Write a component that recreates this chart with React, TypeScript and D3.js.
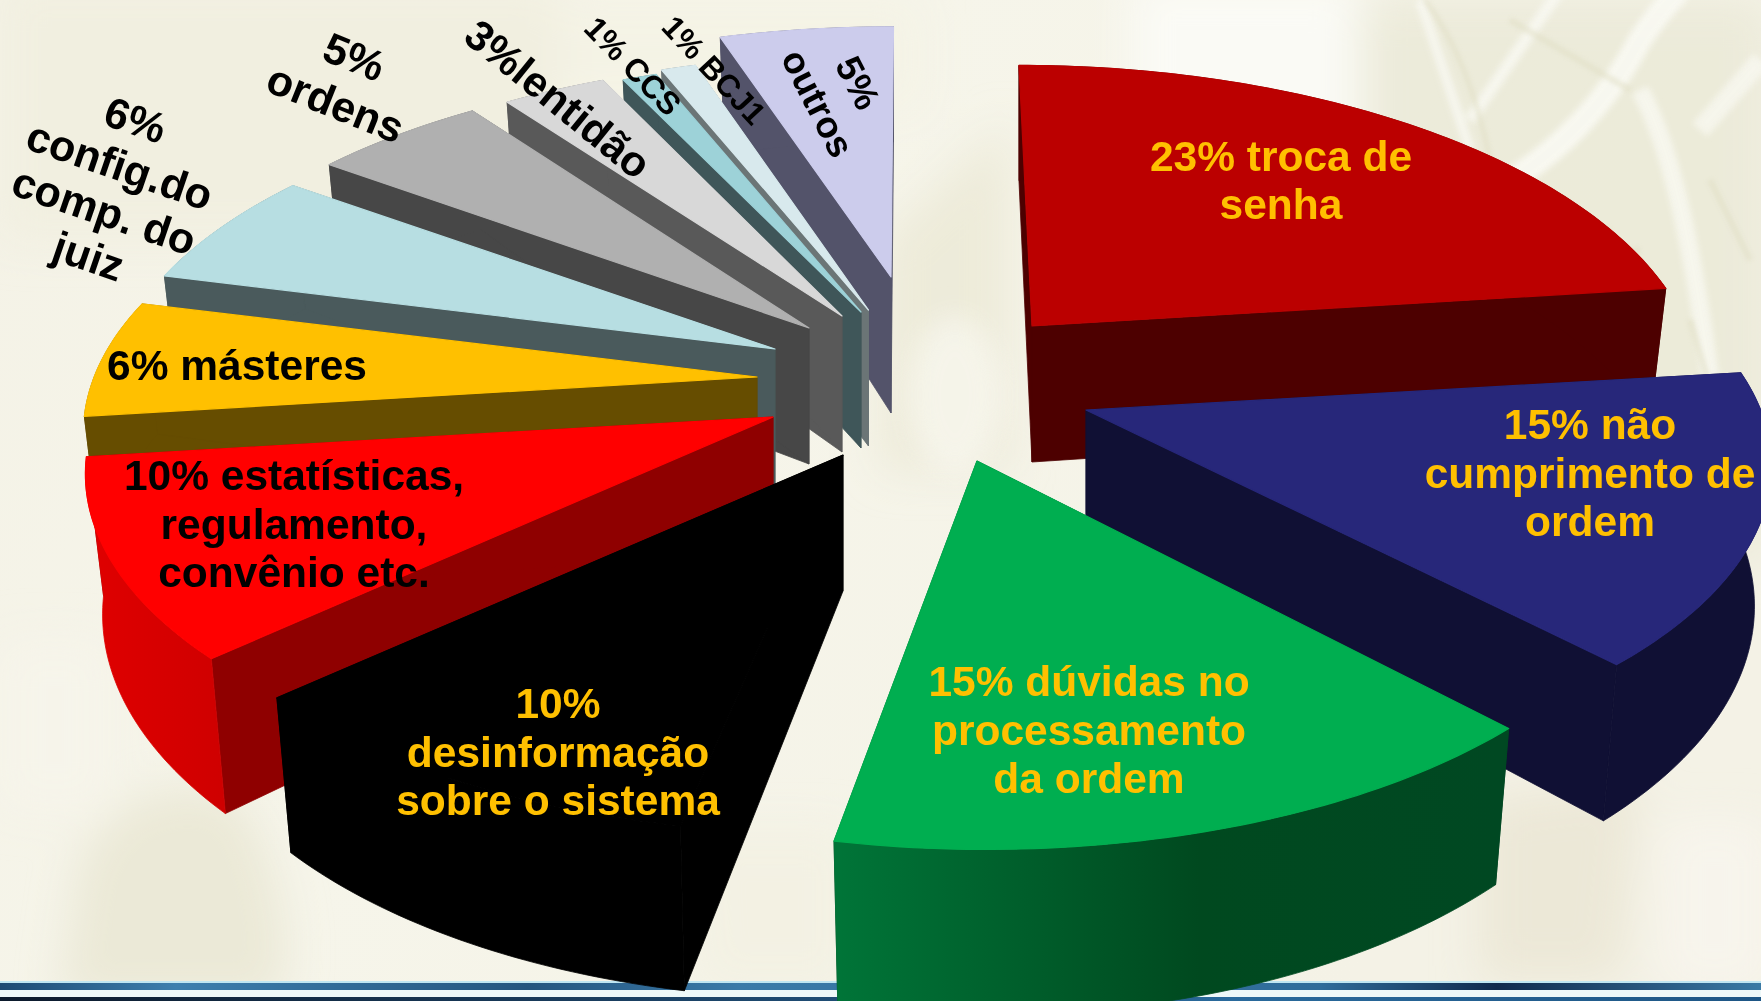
import React from "react";
import * as d3 from "d3";

// ---- data ----
const categories = [
  "troca de senha", "não cumprimento de ordem", "dúvidas no processamento da ordem",
  "desinformação sobre o sistema", "estatísticas, regulamento, convênio etc.", "másteres",
  "config.do comp. do juiz", "ordens", "lentidão", "CCS", "BCJ1", "outros",
];
const percentages = [23, 15, 15, 10, 10, 6, 6, 5, 3, 1, 1, 5];

// ---- layout and style ----
const W = 1761, H = 1001;
const RX = 655, RV = 307, PERSP = 0.178, DEPTH = 136, BOTTOM_SCALE = 0.975;
const apexX = [1032, 1086, 977, 843, 773, 757, 775, 809, 842, 861, 868.5, 891];
const apexY = [326, 410, 461, 455, 417, 377, 349, 328, 316, 312, 310, 277];
const radiusScaleX = [1, 1.03, 1.02, 1.03, 1.033, 1.012, 1.005, 1, 0.995, 0.99, 1, 1];
const radiusScaleY = [1, 0.99, 1.04, 1.015, 1.01, 1, 1, 1, 0.985, 0.97, 0.98, 0.96];
const shear = [-0.05, 0, -0.023, 0.025, 0, 0, 0, 0, 0, 0, 0, 0.01];
const topFill = ["#bb0000", "#27277a", "#00ae50", "#000000", "#ff0000", "#ffc000", "#b7dee2", "#b0b0b0", "#d8d8d8", "#9dd2d8", "#d8e9ed", "#ccccec"];
const wallFill = ["#4d0000", "#101034", "#00401f", "#000000", "#8f0000", "#664d00", "#4a5a5c", "#474747", "#595959", "#3f5659", "#6b7576", "#53536a"];
const outerFill = ["#4d0000", "#101034", "url(#greenWall)", "#000000", "url(#redWall)", "#664d00", "#4a5a5c", "#474747", "#595959", "#3f5659", "#6b7576", "#53536a"];
const drawOrder = [11, 10, 9, 8, 7, 6, 5, 4, 3, 0, 1, 2];

const GOLD = "#ffc000";
const labelLines = [
  ["23% troca de", "senha"],
  ["15% não", "cumprimento de", "ordem"],
  ["15% dúvidas no", "processamento", "da ordem"],
  ["10%", "desinformação", "sobre o sistema"],
  ["10% estatísticas,", "regulamento,", "convênio etc."],
  ["6% másteres"],
  ["6%", "config.do", "comp. do", "juiz"],
  ["5%", "ordens"],
  ["3%lentidão"],
  ["1% CCS"],
  ["1% BCJ1"],
  ["5%", "outros"],
];
const labelColor = [GOLD, GOLD, GOLD, GOLD, "#000", "#000", "#000", "#000", "#000", "#000", "#000", "#000"];
const labelSize = [42.5, 42.5, 42.5, 42.5, 42.5, 42.5, 43, 43, 42.5, 32, 31.5, 37];
const labelAngle = [0, 0, 0, 0, 0, 0, 19, 22, 39, 46, 47, 63];
const labelCx = [1281, 1590, 1089, 558, 294, 237, 112, 345, 558, 633, 714, 838];
const labelCy = [180, 473, 730, 752, 524, 365, 188, 80, 99, 66, 70, 93];
const lineGap = [48, 48.5, 48.5, 48.5, 48.5, 0, 48, 50, 0, 0, 0, 45];

const pie = d3.pie<number>().sort(null).value((d) => d).startAngle(0).endAngle(2 * Math.PI);
const arcs = pie(percentages);
const toPath = d3.line<[number, number]>().curve(d3.curveLinear);

function project(i: number, a: number, bottom: boolean): [number, number] {
  const X = Math.sin(a), Z = Math.cos(a);
  const w = 1 / (1 + PERSP * Z);
  const s = bottom ? BOTTOM_SCALE : 1;
  const dy = RV * radiusScaleY[i] * Z * w;
  const x = apexX[i] + RX * radiusScaleX[i] * X * w * s + shear[i] * dy;
  const y = apexY[i] - dy + (bottom ? DEPTH * w : 0);
  return [x, y];
}

function sampleAngles(a0: number, a1: number): number[] {
  const n = Math.max(4, Math.ceil((a1 - a0) * 60));
  return d3.range(n + 1).map((k) => a0 + ((a1 - a0) * k) / n);
}

function Slice({ i }: { i: number }) {
  const { startAngle: a0, endAngle: a1 } = arcs[i];
  const ax = apexX[i], ay = apexY[i];
  const angles = sampleAngles(a0, a1);
  const topArc = angles.map((a) => project(i, a, false));
  const botArc = angles.map((a) => project(i, a, true));
  const apexTop: [number, number] = [ax, ay];
  const apexBot: [number, number] = [ax, ay + DEPTH];
  const startWall = [apexTop, topArc[0], botArc[0], apexBot] as [number, number][];
  const endWall = [apexTop, topArc[topArc.length - 1], botArc[botArc.length - 1], apexBot] as [number, number][];
  const outer = [...topArc, ...[...botArc].reverse()] as [number, number][];
  const top = [apexTop, ...topArc] as [number, number][];
  const seam = 0.8;
  return (
    <g>
      <path d={toPath(startWall) + "Z"} fill={wallFill[i]} stroke={wallFill[i]} strokeWidth={seam} />
      <path d={toPath(endWall) + "Z"} fill={wallFill[i]} stroke={wallFill[i]} strokeWidth={seam} />
      <path d={toPath(outer) + "Z"} fill={outerFill[i]} stroke={outerFill[i]} strokeWidth={seam} />
      <path d={toPath(top) + "Z"} fill={topFill[i]} stroke={topFill[i]} strokeWidth={1.2} strokeLinejoin="round" />
    </g>
  );
}

function Label({ i }: { i: number }) {
  const lines = labelLines[i];
  const fs = labelSize[i];
  const gap = lineGap[i];
  const y0 = (-(lines.length - 1) * gap) / 2 + fs * 0.35;
  return (
    <text
      transform={`translate(${labelCx[i]},${labelCy[i]}) rotate(${labelAngle[i]})`}
      textAnchor="middle"
      fontFamily="'Liberation Sans', Arial, sans-serif"
      fontWeight={700}
      fontSize={fs}
      fill={labelColor[i]}
    >
      {lines.map((l, k) => (
        <tspan key={k} x={0} y={y0 + k * gap}>{l}</tspan>
      ))}
    </text>
  );
}

function Background() {
  return (
    <g>
      <rect width={W} height={H} fill="url(#bgBase)" />
      {/* soft paper tones */}
      <g filter="url(#soft2)">
        <rect x={1350} y={0} width={420} height={560} fill="#eae8d6" opacity={0.8} />
        <rect x={1130} y={-20} width={230} height={260} fill="#fafaf5" />
        <rect x={0} y={-20} width={560} height={260} fill="#f1efe0" />
        <path d="M80 860 Q140 760 240 800 Q300 900 280 1000 L60 1000Z" fill="#e9e6d2" opacity={0.8} />
        <rect x={0} y={640} width={110} height={170} fill="#f6f4ea" />
        <path d="M1480 800 L1640 780 L1620 980 L1480 980Z" fill="#ebe7d5" opacity={0.9} />
        <rect x={1660} y={820} width={110} height={170} fill="#f7f4ec" />
        <rect x={560} y={0} width={360} height={110} fill="#f4f3e5" />
        <path d="M880 240 L1010 120 L1010 470 L880 470Z" fill="#e9e7d3" opacity={0.7} />
        <path d="M690 830 L850 830 L850 990 L700 990Z" fill="#f3f1e3" />
      </g>
      {/* banknote watermark */}
      <g filter="url(#soft)" fill="none" stroke="#fafaf4" opacity={0.85}>
        <path d="M1380 235 Q1560 190 1640 40 Q1660 10 1680 -10" strokeWidth={24} />
        <path d="M1420 0 L1470 150" strokeWidth={10} opacity={0.9} />
        <path d="M1470 120 L1560 -10" strokeWidth={12} opacity={0.9} />
        <path d="M1640 90 Q1690 180 1720 460" strokeWidth={18} opacity={0.85} />
        <path d="M1700 130 L1761 60" strokeWidth={20} opacity={0.8} />
        <path d="M1480 300 Q1560 340 1590 410" strokeWidth={18} opacity={0.8} />
      </g>
      <g filter="url(#soft1)" fill="none" stroke="#dfddc2" opacity={0.5}>
        <path d="M1425 0 Q1470 60 1490 160" strokeWidth={5} />
        <path d="M1510 20 L1630 90" strokeWidth={6} />
        <path d="M1530 250 L1610 230 M1530 275 L1640 250" strokeWidth={6} />
        <path d="M1710 180 L1750 260 M1690 320 L1720 420" strokeWidth={6} />
      </g>
      <ellipse cx={955} cy={395} rx={48} ry={80} fill="#fbfaf4" filter="url(#soft3)" opacity={0.6} />
      <rect y={981} width={W} height={2} fill="#bfe6f2" />
      <rect y={983} width={W} height={7} fill="url(#bandA)" />
      <rect y={990} width={W} height={7} fill="#eef8f8" />
      <rect y={997} width={W} height={4} fill="url(#bandB)" />
    </g>
  );
}

export default function App() {
  return (
    <svg
      width={W}
      height={H}
      viewBox={`0 0 ${W} ${H}`}
      style={{ position: "fixed", left: 0, top: 0, display: "block" }}
    >
      <defs>
        <linearGradient id="bgBase" x1="0" y1="0" x2="1" y2="0.4">
          <stop offset="0" stopColor="#f4f2e6" />
          <stop offset="0.45" stopColor="#f6f5ea" />
          <stop offset="1" stopColor="#f4f2e6" />
        </linearGradient>
        <linearGradient id="greenWall" gradientUnits="userSpaceOnUse" x1="832" y1="0" x2="1500" y2="0">
          <stop offset="0" stopColor="#007538" />
          <stop offset="0.55" stopColor="#00491f" />
          <stop offset="1" stopColor="#004822" />
        </linearGradient>
        <linearGradient id="redWall" gradientUnits="userSpaceOnUse" x1="85" y1="0" x2="225" y2="0">
          <stop offset="0" stopColor="#e00000" />
          <stop offset="1" stopColor="#cf0000" />
        </linearGradient>
        <linearGradient id="bandA" x1="0" x2="1" y1="0" y2="0">
          <stop offset="0" stopColor="#1d4a73" />
          <stop offset="0.1" stopColor="#3d7fae" />
          <stop offset="0.3" stopColor="#24557f" />
          <stop offset="0.42" stopColor="#3a7aa8" />
          <stop offset="0.75" stopColor="#2f6c9a" />
          <stop offset="0.85" stopColor="#102a4d" />
          <stop offset="1" stopColor="#3a7aa5" />
        </linearGradient>
        <linearGradient id="bandB" x1="0" x2="1" y1="0" y2="0">
          <stop offset="0" stopColor="#0c1a2c" />
          <stop offset="0.4" stopColor="#1c4468" />
          <stop offset="0.7" stopColor="#2a6a9c" />
          <stop offset="1" stopColor="#1e5685" />
        </linearGradient>
        <filter id="soft" x="-30%" y="-30%" width="160%" height="160%">
          <feGaussianBlur stdDeviation="3" />
        </filter>
        <filter id="soft1" x="-30%" y="-30%" width="160%" height="160%">
          <feGaussianBlur stdDeviation="2" />
        </filter>
        <filter id="soft2" x="-30%" y="-30%" width="160%" height="160%">
          <feGaussianBlur stdDeviation="22" />
        </filter>
        <filter id="soft3" x="-50%" y="-50%" width="200%" height="200%">
          <feGaussianBlur stdDeviation="14" />
        </filter>
      </defs>
      <Background />
      {drawOrder.map((i) => (
        <Slice key={categories[i]} i={i} />
      ))}
      {percentages.map((_, i) => (
        <Label key={categories[i]} i={i} />
      ))}
    </svg>
  );
}
